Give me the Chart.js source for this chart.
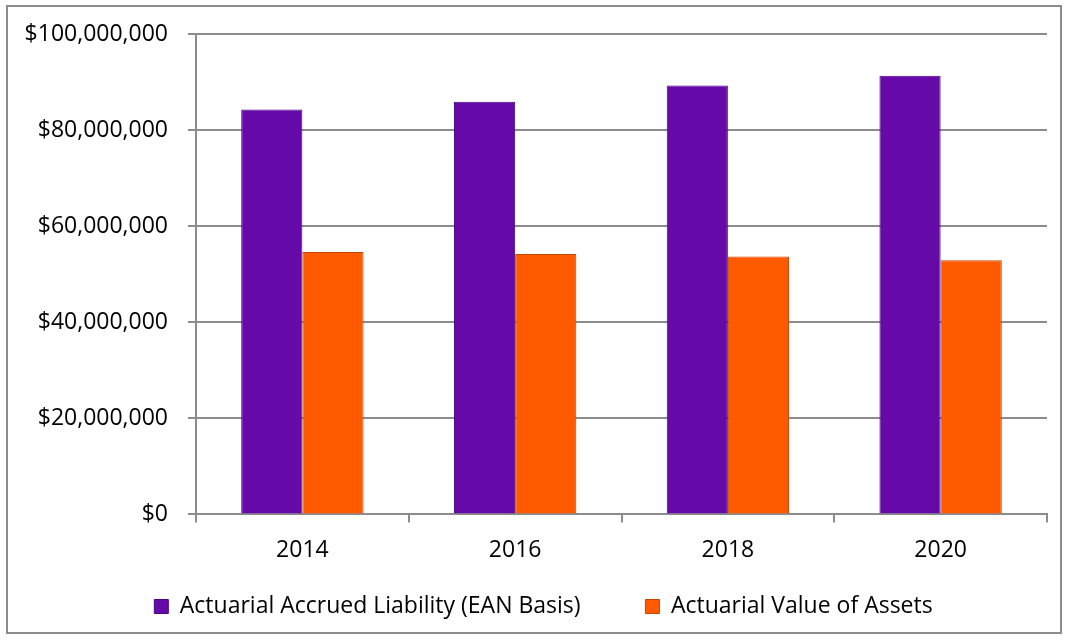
<!DOCTYPE html>
<html>
<head>
<meta charset="utf-8">
<script src="https://cdn.jsdelivr.net/npm/chart.js@4.4.1/dist/chart.umd.min.js"></script>
<style>
  body { margin: 0; background: #fff; }
  #wrap { position: absolute; left: 0; top: 0; width: 1068px; height: 640px; }
</style>
</head>
<body>
<div id="wrap"><canvas id="mycanvas" width="1068" height="640"></canvas></div>
<script>
var years = ["2014", "2016", "2018", "2020"];
var liability = [84300000, 85900000, 89300000, 91300000];
var assets = [54600000, 54200000, 53700000, 52900000];
var seriesNames = ["Actuarial Accrued Liability (EAN Basis)", "Actuarial Value of Assets"];

var frame = {
  id: 'frame',
  beforeDraw: function(chart) {
    var c = chart.ctx;
    c.save();
    c.fillStyle = '#ffffff';
    c.fillRect(0, 0, chart.width, chart.height);
    c.strokeStyle = '#8c8c8c';
    c.lineWidth = 2;
    c.strokeRect(7, 6, 1054, 627);
    c.restore();
  },
  afterLayout: function(chart) {
    // legend in the original sits a little right of the canvas centre
    chart.legend.left += 10;
    chart.legend.right += 10;
  }
};

function money(v) {
  return '$' + v.toLocaleString('en-US');
}

var ctx = document.getElementById('mycanvas');
var barGraph = new Chart(ctx, {
  type: 'bar',
  data: {
    labels: years,
    datasets: [
      {
        label: seriesNames[0],
        data: liability,
        backgroundColor: '#650aa8',
        borderColor: '#4a0680',
        borderWidth: 1,
        barPercentage: 1,
        categoryPercentage: 0.575
      },
      {
        label: seriesNames[1],
        data: assets,
        backgroundColor: '#ff5a00',
        borderColor: '#c44600',
        borderWidth: 1,
        barPercentage: 1,
        categoryPercentage: 0.575
      }
    ]
  },
  options: {
    responsive: false,
    animation: false,
    layout: { padding: { left: 20, right: 21, top: 34, bottom: 12 } },
    plugins: {
      legend: {
        position: 'bottom',
        labels: {
          font: { family: "'Open Sans', sans-serif", size: 23 },
          color: '#000',
          boxWidth: 14,
          boxHeight: 14,
          padding: 17,
          generateLabels: function(chart) {
            var items = Chart.defaults.plugins.legend.labels.generateLabels(chart);
            // extra room after the first entry, like the original legend
            items[0].text = items[0].text + '\u00a0\u00a0\u00a0\u00a0\u00a0\u00a0\u00a0\u00a0';
            return items;
          }
        }
      },
      tooltip: { enabled: false }
    },
    scales: {
      x: {
        grid: { drawOnChartArea: false, drawTicks: true, tickLength: 8, color: '#8c8c8c', lineWidth: 2 },
        border: { color: '#8c8c8c', width: 2 },
        ticks: { font: { family: "'Open Sans', sans-serif", size: 23 }, color: '#000', padding: 14 }
      },
      y: {
        min: 0,
        max: 100000000,
        afterFit: function(scale) { scale.width = 176; },
        grid: { color: '#8c8c8c', lineWidth: 2, tickLength: 8 },
        border: { color: '#8c8c8c', width: 2 },
        ticks: {
          stepSize: 20000000,
          font: { family: "'Open Sans', sans-serif", size: 23 },
          color: '#000',
          padding: 20,
          callback: function(v) { return money(v); }
        }
      }
    }
  },
  plugins: [frame]
});
</script>
</body>
</html>
